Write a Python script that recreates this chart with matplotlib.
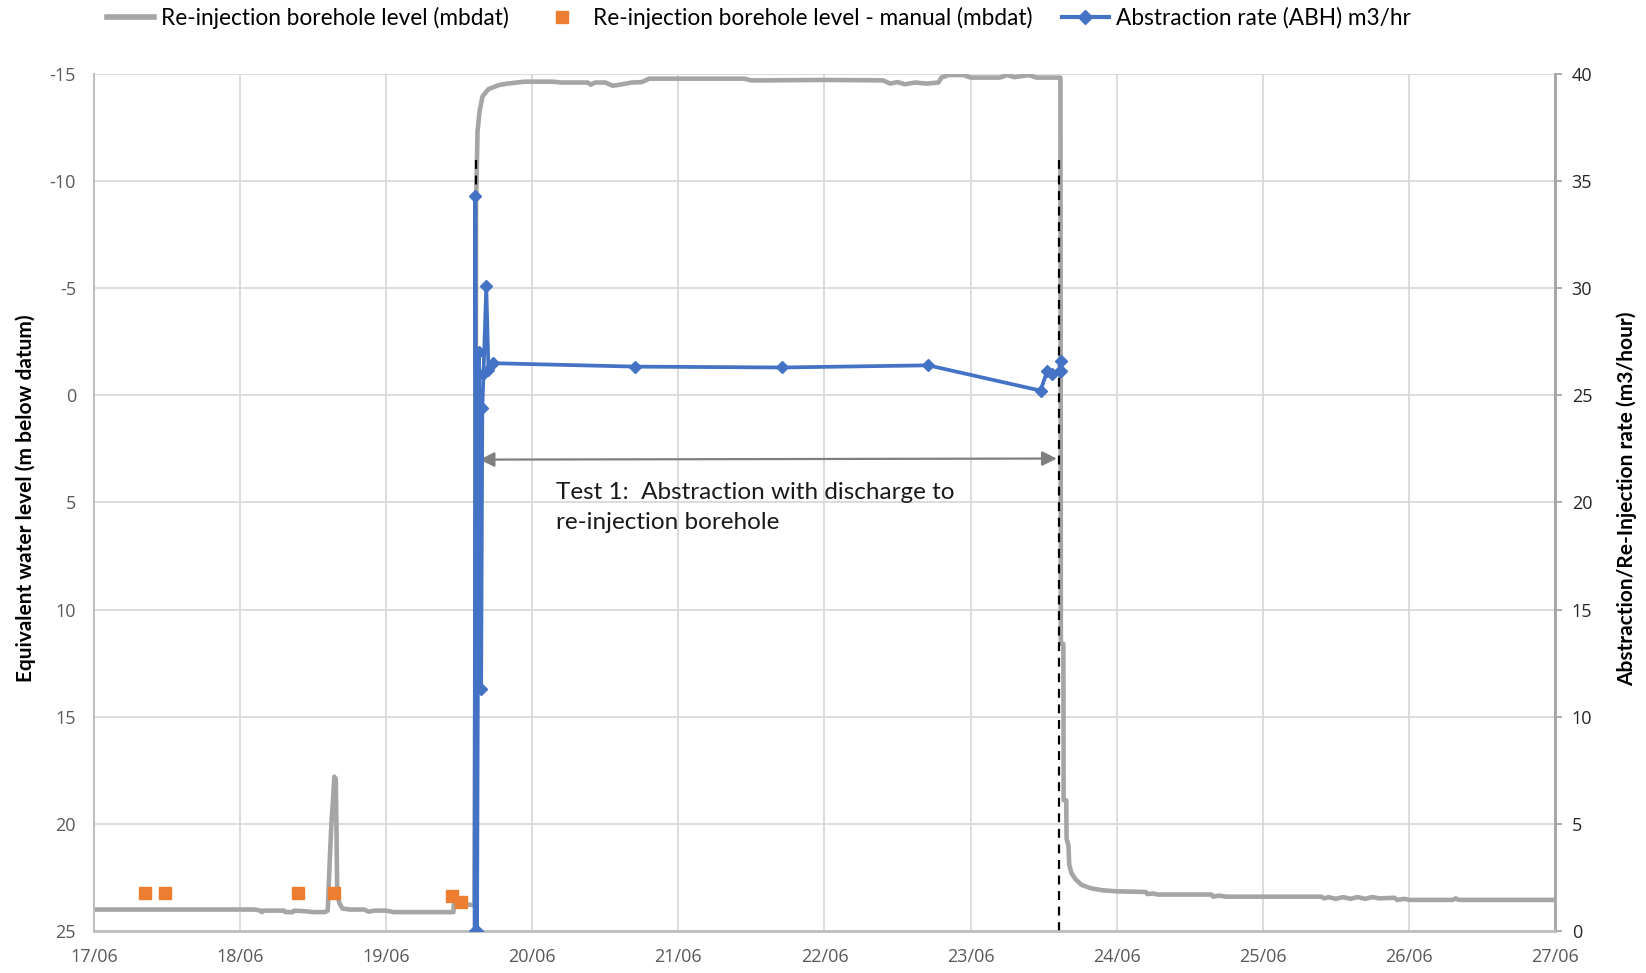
import matplotlib
matplotlib.use("Agg")
import matplotlib.pyplot as plt
from matplotlib.lines import Line2D

plt.rcParams['axes.unicode_minus'] = False

# ---- data (x = days since 17/06 00:00) ----
x_tick_labels = ["17/06", "18/06", "19/06", "20/06", "21/06", "22/06",
                 "23/06", "24/06", "25/06", "26/06", "27/06"]
left_ticks = [-15, -10, -5, 0, 5, 10, 15, 20, 25]
right_ticks = [0, 5, 10, 15, 20, 25, 30, 35, 40]

grey_day = [0.00, 1.10, 1.14, 1.15, 1.16, 1.30, 1.31, 1.36, 1.37, 1.45, 1.50, 1.58,
            1.60, 1.615, 1.625, 1.635, 1.645, 1.655, 1.660, 1.665, 1.68, 1.70, 1.75,
            1.85, 1.88, 1.92, 2.00, 2.05, 2.10, 2.20, 2.46, 2.463, 2.53, 2.605,
            2.612, 2.615, 2.62, 2.625, 2.64, 2.66, 2.70, 2.77, 2.83, 2.95,
            3.14, 3.20, 3.38, 3.40, 3.43, 3.50, 3.55, 3.60, 3.68, 3.75, 3.80, 4.05,
            4.45, 4.50, 4.60, 5.00, 5.40, 5.45, 5.50, 5.55, 5.62, 5.70, 5.78, 5.80,
            5.85, 5.95, 6.00, 6.20, 6.25, 6.30, 6.40, 6.45, 6.615,
            6.618, 6.635, 6.637, 6.655, 6.657, 6.67, 6.675, 6.69, 6.72, 6.76, 6.82,
            6.90, 7.00, 7.20, 7.21, 7.25, 7.28, 7.65, 7.66, 7.70, 7.75, 8.40, 8.42,
            8.45, 8.50, 8.55, 8.60, 8.65, 8.70, 8.75, 8.80, 8.90, 8.92, 8.97, 9.00,
            9.30, 9.32, 9.34, 10.00]
grey_level = [24.00, 24.00, 24.05, 24.12, 24.05, 24.05, 24.12, 24.12, 24.05, 24.08, 24.12, 24.12,
              24.05, 21.5, 20.0, 19.0, 17.8, 17.9, 20.5, 23.3, 23.7, 23.95, 24.00,
              24.00, 24.10, 24.05, 24.05, 24.12, 24.12, 24.12, 24.12, 23.75, 23.75, 23.80,
              10.0, -9.0, -10.5, -12.3, -13.3, -13.96, -14.29, -14.48, -14.55, -14.64,
              -14.64, -14.60, -14.60, -14.50, -14.60, -14.60, -14.45, -14.50, -14.60, -14.62, -14.78, -14.78,
              -14.78, -14.70, -14.70, -14.72, -14.70, -14.55, -14.62, -14.52, -14.60, -14.55, -14.60, -14.83,
              -14.95, -14.95, -14.83, -14.83, -14.95, -14.85, -14.95, -14.83, -14.83,
              11.6, 11.6, 18.9, 18.9, 20.7, 21.0, 21.9, 22.3, 22.6, 22.85, 23.0,
              23.1, 23.15, 23.18, 23.28, 23.25, 23.30, 23.30, 23.40, 23.35, 23.40, 23.40, 23.48,
              23.42, 23.50, 23.42, 23.50, 23.42, 23.50, 23.42, 23.48, 23.45, 23.55, 23.50, 23.55,
              23.55, 23.48, 23.55, 23.55]

manual_day = [0.348, 0.485, 1.397, 1.642, 2.448, 2.512]
manual_level = [23.24, 23.24, 23.24, 23.24, 23.37, 23.63]

rate_day = [2.605, 2.610, 2.622, 2.635, 2.650, 2.658, 2.666, 2.685, 2.700, 2.728,
            3.706, 4.710, 5.710, 6.479, 6.525, 6.560, 6.612, 6.616, 6.618]
rate_value = [0.0, 34.3, 0.0, 27.0, 11.3, 24.4, 26.0, 30.1, 26.2, 26.5,
              26.34, 26.3, 26.4, 25.22, 26.15, 26.0, 26.15, 26.6, 26.15]

test_start_day = 2.617
test_end_day = 6.607

# ---- figure ----
fig = plt.figure(figsize=(16.46, 9.73), dpi=100)
ax = fig.add_axes([0.0571, 0.0432, 0.9447 - 0.0571, 0.924 - 0.0432])
ax2 = ax.twinx()

grey = '#A5A5A5'
blue = '#4472C4'
orange = '#ED7D31'

ax.plot(grey_day, grey_level, color=grey, lw=3.3, zorder=3, solid_joinstyle='round')
ax.plot(manual_day, manual_level, ls='none', marker='s', ms=8, color=orange, zorder=4)

for d in (test_start_day, test_end_day):
    ax.plot([d, d], [-11.0, 25], color='black', lw=1.6, ls=(0, (4, 3)), zorder=5)

ax.annotate('', xy=(2.64, 3.0), xytext=(6.59, 2.95),
            arrowprops=dict(arrowstyle='<|-|>', color='#7F7F7F', lw=1.6,
                            mutation_scale=22, shrinkA=0, shrinkB=0), zorder=5)
ax.text(3.16, 5.25, 'Test 1:  Abstraction with discharge to\nre-injection borehole',
        fontsize=17.5, family=['Lato', 'DejaVu Sans'], color='#1a1a1a',
        va='center', ha='left', linespacing=1.55)

ax2.plot(rate_day, rate_value, color=blue, lw=2.7, marker='D', ms=6.5, zorder=6)

# axes
ax.set_xlim(0, 10)
ax.set_ylim(25, -15)
ax2.set_ylim(0, 40)
ax.set_xticks(range(len(x_tick_labels)))
ax.set_xticklabels(x_tick_labels)
ax.set_yticks(left_ticks)
ax.set_yticklabels([str(t) for t in left_ticks])
ax2.set_yticks(right_ticks)
ax2.set_yticklabels([str(t) for t in right_ticks])

ax.grid(True, color='#D9D9D9', lw=1.3)
ax.set_axisbelow(True)

tickfont = ['Open Sans', 'DejaVu Sans']
for lab in ax.get_xticklabels() + ax.get_yticklabels():
    lab.set_family(tickfont)
    lab.set_fontsize(13)
    lab.set_color('#595959')
for lab in ax2.get_yticklabels():
    lab.set_family(tickfont)
    lab.set_fontsize(13)
    lab.set_color('#262626')

ax.tick_params(axis='both', length=0)
ax.tick_params(axis='x', pad=12)
ax.tick_params(axis='y', pad=13)
ax2.tick_params(axis='y', length=5, width=1.3, color='#A6A6A6', pad=7, direction='out')

for a in (ax, ax2):
    a.spines['top'].set_visible(False)
    a.spines['left'].set_color('#BFBFBF')
    a.spines['bottom'].set_color('#BFBFBF')
    a.spines['right'].set_color('#A6A6A6')
    a.spines['left'].set_linewidth(1.3)
    a.spines['bottom'].set_linewidth(1.8)
    a.spines['right'].set_linewidth(1.8)

labfont = ['Liberation Sans Narrow', 'Lato', 'DejaVu Sans']
fig.text(0.0158, 0.4875, 'Equivalent water level (m below datum)', rotation=90,
         ha='center', va='center', fontsize=15, fontweight='bold', family=labfont)
fig.text(0.9885, 0.4875, 'Abstraction/Re-Injection rate (m3/hour)', rotation=90,
         ha='center', va='center', fontsize=15, fontweight='bold', family=labfont)

handles = [
    Line2D([], [], color=grey, lw=4),
    Line2D([], [], ls='none', marker='s', ms=8, color=orange),
    Line2D([], [], color=blue, lw=3, marker='D', ms=7),
]
labels = ['Re-injection borehole level (mbdat)',
          'Re-injection borehole level - manual (mbdat)',
          'Abstraction rate (ABH) m3/hr']
fig.legend(handles, labels, loc='center', bbox_to_anchor=(0.461, 0.9815), ncol=3,
           frameon=False, prop={'family': ['Lato', 'DejaVu Sans'], 'size': 16.3},
           handlelength=2.1, handletextpad=0.3, columnspacing=1.3)

fig.savefig('out.png', dpi=100)
